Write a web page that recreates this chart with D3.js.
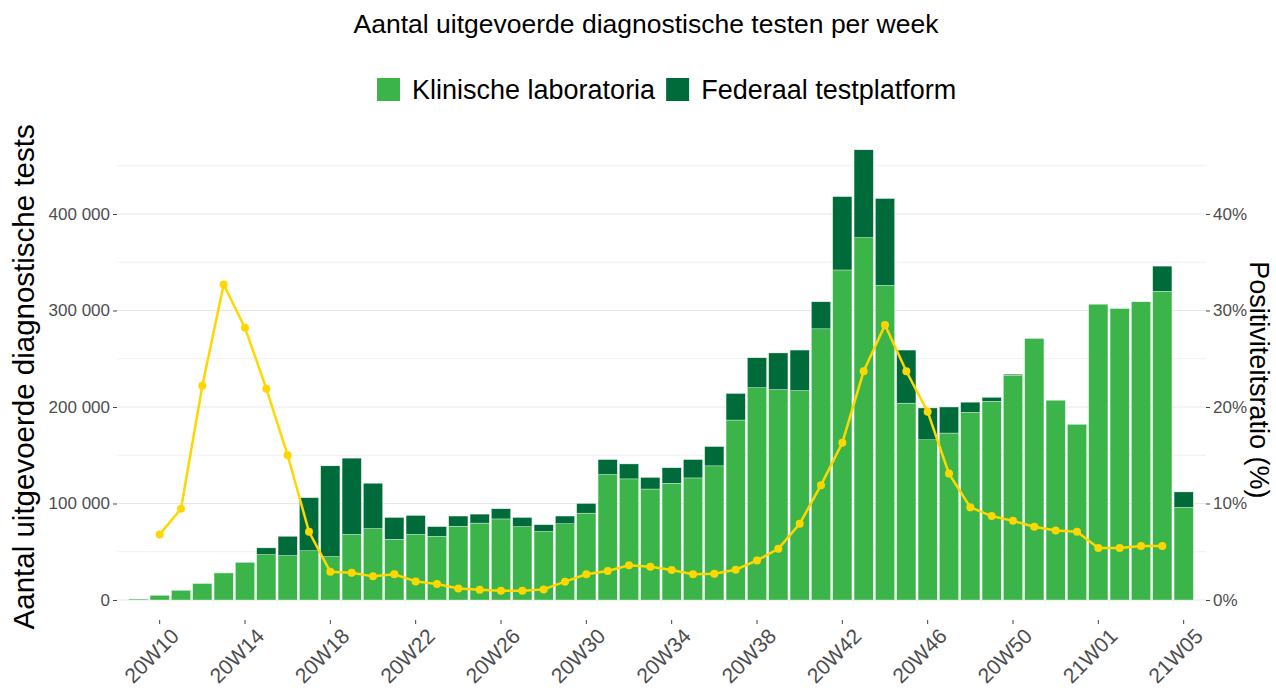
<!DOCTYPE html>
<html>
<head>
<meta charset="utf-8">
<script src="https://cdn.jsdelivr.net/npm/d3@7"></script>
<style>
  body { margin: 0; background: #fff; }
  text { font-family: "Liberation Sans", Arial, sans-serif; }
</style>
</head>
<body>
<script>
const width = 1276;
const height = 691;
const margin = { top: 127, right: 70, bottom: 71, left: 117 };

const weeks = [
  "20W09", "20W10", "20W11", "20W12", "20W13", "20W14", "20W15", "20W16", "20W17", "20W18",
  "20W19", "20W20", "20W21", "20W22", "20W23", "20W24", "20W25", "20W26", "20W27", "20W28",
  "20W29", "20W30", "20W31", "20W32", "20W33", "20W34", "20W35", "20W36", "20W37", "20W38",
  "20W39", "20W40", "20W41", "20W42", "20W43", "20W44", "20W45", "20W46", "20W47", "20W48",
  "20W49", "20W50", "20W51", "20W52", "20W53", "21W01", "21W02", "21W03", "21W04", "21W05"
];

const klinisch = [
  1000, 4800, 10000, 17000, 28000, 39000, 47000, 46000, 51000, 45000,
  68000, 74000, 63000, 68000, 66000, 76500, 79700, 84000, 76000, 71000,
  79000, 90000, 130000, 125500, 115000, 121000, 126500, 139000, 186500, 220000,
  218000, 217000, 281000, 342000, 375500, 326000, 204000, 166000, 173000, 194500,
  206000, 233000, 271000, 207000, 182000, 306500, 302000, 309000, 320000, 96000
];

const federaal = [
  0, 0, 0, 0, 0, 0, 7000, 20000, 55000, 94000,
  79000, 47000, 22500, 19600, 10000, 10500, 9300, 10500, 9500, 7000,
  8000, 10000, 15500, 15500, 12000, 16000, 19000, 20000, 27500, 31000,
  38000, 42000, 28000, 76000, 91000, 90000, 55000, 33000, 27000, 10500,
  4000, 1000, 0, 0, 0, 0, 0, 0, 26000, 16000
];

const positiviteit = [
  null, 6.8, 9.45, 22.2, 32.7, 28.2, 21.9, 15.0, 7.07, 2.93,
  2.83, 2.45, 2.66, 1.93, 1.66, 1.2, 1.07, 0.97, 0.97, 1.1,
  1.9, 2.66, 3.0, 3.59, 3.45, 3.1, 2.66, 2.72, 3.14, 4.1,
  5.3, 7.9, 11.9, 16.3, 23.7, 28.5, 23.7, 19.5, 13.1, 9.6,
  8.7, 8.2, 7.6, 7.2, 7.07, 5.4, 5.4, 5.6, 5.6, null
];

const xTicks = ["20W10", "20W14", "20W18", "20W22", "20W26", "20W30", "20W34", "20W38",
  "20W42", "20W46", "20W50", "21W01", "21W05"];
const yTicks = [0, 100000, 200000, 300000, 400000];
const yMinor = [50000, 150000, 250000, 350000, 450000];
const pctTicks = [0, 10, 20, 30, 40];

const seriesNames = ["Klinische laboratoria", "Federaal testplatform"];
const colors = ["#3bb54a", "#006b3a"];

const chartWidth = width - margin.left - margin.right;
const chartHeight = height - margin.top - margin.bottom;

const svg = d3.select("body")
  .append("svg")
  .attr("width", width)
  .attr("height", height);

const g = svg.append("g")
  .attr("transform", `translate(${margin.left}, ${margin.top})`);

// 0.6 band of expansion on each side, like ggplot
const x = d3.scaleBand()
  .domain(weeks)
  .range([0, chartWidth - 1])
  .paddingInner(0.1)
  .paddingOuter(0.55);

const y = d3.scaleLinear().domain([-20725, 490155]).range([chartHeight, 0]);
const yPct = d3.scaleLinear().domain([-2.0725, 49.0155]).range([chartHeight, 0]);

// gridlines
g.selectAll(".minor")
  .data(yMinor)
  .enter().append("line")
  .attr("x1", 0).attr("x2", chartWidth)
  .attr("y1", d => y(d)).attr("y2", d => y(d))
  .attr("stroke", "#f0f0f0").attr("stroke-width", 1);

g.selectAll(".major")
  .data(yTicks)
  .enter().append("line")
  .attr("x1", 0).attr("x2", chartWidth)
  .attr("y1", d => y(d)).attr("y2", d => y(d))
  .attr("stroke", "#e8e8e8").attr("stroke-width", 1.2);

// stacked bars
const rows = weeks.map((w, i) => ({ week: w, klinisch: klinisch[i], federaal: federaal[i] }));
const stack = d3.stack().keys(["klinisch", "federaal"])(rows);

g.selectAll(".layer")
  .data(stack)
  .enter().append("g")
  .attr("fill", (d, i) => colors[i])
  .selectAll("rect")
  .data(d => d)
  .enter().append("rect")
  .attr("x", d => x(d.data.week))
  .attr("width", x.bandwidth())
  .attr("y", d => y(d[1]))
  .attr("height", d => y(d[0]) - y(d[1]))
  .attr("stroke", "#e6f2e6")
  .attr("stroke-width", 0.4);

// positivity line
const pts = weeks.map((w, i) => ({ week: w, v: positiviteit[i] })).filter(d => d.v !== null);

const line = d3.line()
  .x(d => x(d.week) + x.bandwidth() / 2)
  .y(d => yPct(d.v));

g.append("path")
  .datum(pts)
  .attr("d", line)
  .attr("fill", "none")
  .attr("stroke", "#ffd700")
  .attr("stroke-width", 2.5);

g.selectAll(".dot")
  .data(pts)
  .enter().append("circle")
  .attr("cx", d => x(d.week) + x.bandwidth() / 2)
  .attr("cy", d => yPct(d.v))
  .attr("r", 4)
  .attr("fill", "#ffd700");

// axes
const yAxis = g.append("g")
  .call(d3.axisLeft(y).tickValues(yTicks).tickSize(4).tickPadding(3)
    .tickFormat(d => d3.format(",")(d).replace(/,/g, " ")));

const yAxisRight = g.append("g")
  .attr("transform", `translate(${chartWidth}, 0)`)
  .call(d3.axisRight(yPct).tickValues(pctTicks).tickSize(4).tickPadding(3)
    .tickFormat(d => d + "%"));

const xAxis = g.append("g")
  .attr("transform", `translate(0, ${chartHeight})`)
  .call(d3.axisBottom(x).tickValues(xTicks).tickSize(4));

[yAxis, yAxisRight, xAxis].forEach(a => {
  a.select(".domain").remove();
  a.selectAll(".tick line").attr("stroke", "#444");
  a.selectAll("text").attr("fill", "#4d4d4d").attr("font-size", 17);
});

xAxis.selectAll("text")
  .attr("transform", "translate(10, 7) rotate(-45)")
  .attr("x", 0)
  .attr("y", 0)
  .attr("dy", "0.71em")
  .attr("text-anchor", "end")
  .attr("font-size", 21);

// axis titles
svg.append("text")
  .attr("transform", `translate(34, ${margin.top + y(225000) - 6}) rotate(-90)`)
  .attr("text-anchor", "middle")
  .attr("font-size", 29.5)
  .attr("fill", "#000")
  .text("Aantal uitgevoerde diagnostische tests");

svg.append("text")
  .attr("transform", `translate(1250, ${margin.top + y(225000) - 3}) rotate(90)`)
  .attr("text-anchor", "middle")
  .attr("font-size", 27)
  .attr("fill", "#000")
  .text("Positiviteitsratio (%)");

// title
svg.append("text")
  .attr("x", 646)
  .attr("y", 33)
  .attr("text-anchor", "middle")
  .attr("font-size", 26.5)
  .attr("fill", "#000")
  .text("Aantal uitgevoerde diagnostische testen per week");

// legend
const legend = svg.append("g").attr("transform", "translate(377, 78)");
let lx = 0;
seriesNames.forEach((name, i) => {
  const item = legend.append("g").attr("transform", `translate(${lx}, 0)`);
  item.append("rect")
    .attr("width", 23).attr("height", 23)
    .attr("fill", colors[i]);
  const t = item.append("text")
    .attr("x", 35).attr("y", 21)
    .attr("font-size", 27)
    .attr("fill", "#000")
    .text(name);
  lx += 35 + t.node().getComputedTextLength() + 11;
});
</script>
</body>
</html>
